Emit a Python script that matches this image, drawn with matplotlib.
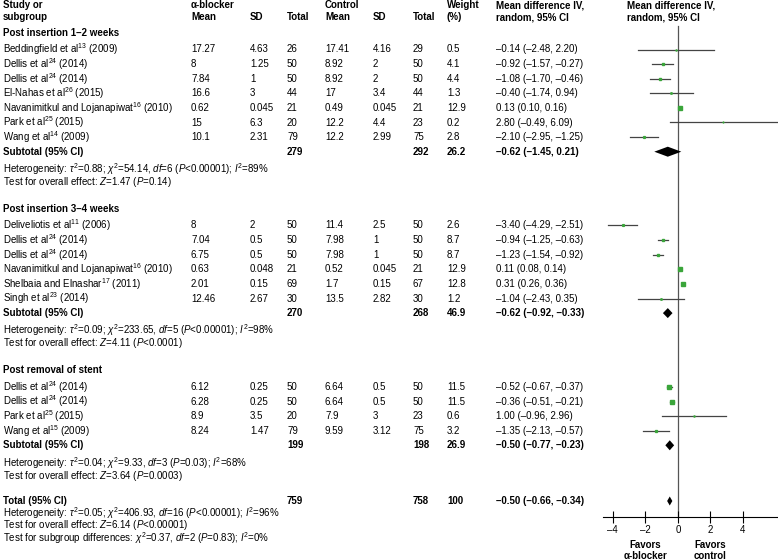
import matplotlib
matplotlib.use("Agg")
import matplotlib.pyplot as plt

plt.rcParams['font.family'] = ['Liberation Sans', 'DejaVu Sans']
plt.rcParams['font.size'] = 7
plt.rcParams['mathtext.fontset'] = 'custom'
plt.rcParams['mathtext.rm'] = 'Liberation Sans'
plt.rcParams['mathtext.it'] = 'Liberation Sans:italic'
plt.rcParams['mathtext.bf'] = 'Liberation Sans:bold'

# ---- datos por subgrupo ----
grupos = ["Post insertion 1–2 weeks", "Post insertion 3–4 weeks", "Post removal of stent"]

estudios = [
    ["Beddingfield et al$^{13}$ (2009)", "Dellis et al$^{24}$ (2014)", "Dellis et al$^{24}$ (2014)",
     "El-Nahas et al$^{26}$ (2015)", "Navanimitkul and Lojanapiwat$^{16}$ (2010)",
     "Park et al$^{25}$ (2015)", "Wang et al$^{14}$ (2009)"],
    ["Deliveliotis et al$^{11}$ (2006)", "Dellis et al$^{24}$ (2014)", "Dellis et al$^{24}$ (2014)",
     "Navanimitkul and Lojanapiwat$^{16}$ (2010)", "Shelbaia and Elnashar$^{17}$ (2011)",
     "Singh et al$^{23}$ (2014)"],
    ["Dellis et al$^{24}$ (2014)", "Dellis et al$^{24}$ (2014)", "Park et al$^{25}$ (2015)",
     "Wang et al$^{15}$ (2009)"],
]
alfa_media = [["17.27", "8", "7.84", "16.6", "0.62", "15", "10.1"],
              ["8", "7.04", "6.75", "0.63", "2.01", "12.46"],
              ["6.12", "6.28", "8.9", "8.24"]]
alfa_sd = [["4.63", "1.25", "1", "3", "0.045", "6.3", "2.31"],
           ["2", "0.5", "0.5", "0.048", "0.15", "2.67"],
           ["0.25", "0.25", "3.5", "1.47"]]
alfa_n = [[26, 50, 50, 44, 21, 20, 79],
          [50, 50, 50, 21, 69, 30],
          [50, 50, 20, 79]]
control_media = [["17.41", "8.92", "8.92", "17", "0.49", "12.2", "12.2"],
                 ["11.4", "7.98", "7.98", "0.52", "1.7", "13.5"],
                 ["6.64", "6.64", "7.9", "9.59"]]
control_sd = [["4.16", "2", "2", "3.4", "0.045", "4.4", "2.99"],
              ["2.5", "1", "1", "0.045", "0.15", "2.82"],
              ["0.5", "0.5", "3", "3.12"]]
control_n = [[29, 50, 50, 44, 21, 23, 75],
             [50, 50, 50, 21, 67, 30],
             [50, 50, 23, 75]]
peso = [[0.5, 4.1, 4.4, 1.3, 12.9, 0.2, 2.8],
        [2.6, 8.7, 8.7, 12.9, 12.8, 1.2],
        [11.5, 11.5, 0.6, 3.2]]
dm = [[-0.14, -0.92, -1.08, -0.40, 0.13, 2.80, -2.10],
      [-3.40, -0.94, -1.23, 0.11, 0.31, -1.04],
      [-0.52, -0.36, 1.00, -1.35]]
ic_inf = [[-2.48, -1.57, -1.70, -1.74, 0.10, -0.49, -2.95],
          [-4.29, -1.25, -1.54, 0.08, 0.26, -2.43],
          [-0.67, -0.51, -0.96, -2.13]]
ic_sup = [[2.20, -0.27, -0.46, 0.94, 0.16, 6.09, -1.25],
          [-2.51, -0.63, -0.92, 0.14, 0.36, 0.35],
          [-0.37, -0.21, 2.96, -0.57]]

sub_alfa_n = [279, 270, 199]
sub_control_n = [292, 268, 198]
sub_peso = ["26.2", "46.9", "26.9"]
sub_dm = [-0.62, -0.62, -0.50]
sub_inf = [-1.45, -0.92, -0.77]
sub_sup = [0.21, -0.33, -0.23]
sub_heterog = [r"Heterogeneity: $\tau^2$=0.88; $\chi^2$=54.14, $df$=6 ($P$<0.00001); $I^2$=89%",
               r"Heterogeneity: $\tau^2$=0.09; $\chi^2$=233.65, $df$=5 ($P$<0.00001); $I^2$=98%",
               r"Heterogeneity: $\tau^2$=0.04; $\chi^2$=9.33, $df$=3 ($P$=0.03); $I^2$=68%"]
sub_efecto = [r"Test for overall effect: $Z$=1.47 ($P$=0.14)",
              r"Test for overall effect: $Z$=4.11 ($P$<0.0001)",
              r"Test for overall effect: $Z$=3.64 ($P$=0.0003)"]

total_alfa_n = 759
total_control_n = 758
total_peso = "100"
total_dm, total_inf, total_sup = -0.50, -0.66, -0.34
total_textos = [r"Heterogeneity: $\tau^2$=0.05; $\chi^2$=406.93, $df$=16 ($P$<0.00001); $I^2$=96%",
                r"Test for overall effect: $Z$=6.14 ($P$<0.00001)",
                r"Test for subgroup differences: $\chi^2$=0.37, $df$=2 ($P$=0.83); $I^2$=0%"]

ticks = [-4, -2, 0, 2, 4]


def fmt(v):
    return f"{v:.2f}".replace("-", "–")


def ic_txt(m, a, b):
    return f"{fmt(m)} ({fmt(a)}, {fmt(b)})"


# columnas (px)
X_EST, X_AM, X_ASD, X_AN, X_CM, X_CSD, X_CN, X_W, X_IC = 3, 191, 250, 287, 325, 373, 413, 447, 496

fig = plt.figure(figsize=(7.78, 5.6), dpi=100)
ax = fig.add_axes([0, 0, 1, 1])
ax.set_xlim(0, 778)
ax.set_ylim(560, 0)
ax.axis('off')

fx = fig.add_axes([603 / 778, 0, 175 / 778, 1])
fx.set_xlim(-4.6, 6.15)
fx.set_ylim(560, 0)
fx.patch.set_alpha(0)
for s in ['top', 'right', 'left']:
    fx.spines[s].set_visible(False)
fx.spines['bottom'].set_position(('data', 517))
fx.spines['bottom'].set_linewidth(0.8)
fx.set_yticks([])
fx.set_xticks(ticks)
fx.set_xticklabels([str(t).replace("-", "–") for t in ticks])
fx.tick_params(axis='x', direction='inout', length=9, width=0.8, pad=1, labelsize=7)


def t(x, y, s, bold=False, **kw):
    ax.text(x, y, s, va='center', ha='left', fontweight='bold' if bold else 'normal', **kw)


# cabecera
t(X_EST, 5, "Study or", True)
t(X_EST, 17, "subgroup", True)
t(X_AM, 5, "α-blocker", True)
t(X_AM, 17, "Mean", True)
t(X_ASD, 17, "SD", True)
t(X_AN, 17, "Total", True)
t(X_CM, 5, "Control", True)
t(X_CM, 17, "Mean", True)
t(X_CSD, 17, "SD", True)
t(X_CN, 17, "Total", True)
t(X_W, 5, "Weight", True)
t(X_W, 17, "(%)", True)
t(X_IC, 5, "Mean difference IV,", True)
t(X_IC, 17, "random, 95% CI", True)
t(627, 5, "Mean difference IV,", True)
t(627, 17, "random, 95% CI", True)

paso = 14.6
y = 33
for g in range(len(grupos)):
    t(X_EST, y, grupos[g], True)
    y += 16.5
    for i in range(len(estudios[g])):
        t(X_EST, y, estudios[g][i])
        t(X_AM, y, alfa_media[g][i])
        t(X_ASD, y, alfa_sd[g][i])
        t(X_AN, y, str(alfa_n[g][i]))
        t(X_CM, y, control_media[g][i])
        t(X_CSD, y, control_sd[g][i])
        t(X_CN, y, str(control_n[g][i]))
        t(X_W, y, str(peso[g][i]))
        t(X_IC, y, ic_txt(dm[g][i], ic_inf[g][i], ic_sup[g][i]))
        fx.plot([ic_inf[g][i], ic_sup[g][i]], [y, y], color='#444444', lw=0.9, clip_on=True)
        fx.plot(dm[g][i], y, marker='s', color='#3aa53a', mec='#3aa53a',
                ms=0.6 * peso[g][i] ** 0.5 + 0.3)
        y += paso
    t(X_EST, y, "Subtotal (95% CI)", True)
    t(X_AN, y, str(sub_alfa_n[g]), True)
    t(X_CN, y, str(sub_control_n[g]), True)
    t(X_W, y, sub_peso[g], True)
    t(X_IC, y, ic_txt(sub_dm[g], sub_inf[g], sub_sup[g]), True)
    fx.fill([sub_inf[g], sub_dm[g], sub_sup[g], sub_dm[g]], [y, y - 5, y, y + 5], color='black', lw=0)
    y += 17.5
    t(X_EST, y, sub_heterog[g])
    y += 12.8
    t(X_EST, y, sub_efecto[g])
    y += 27

y = 501
t(X_EST, y, "Total (95% CI)", True)
t(X_AN, y, str(total_alfa_n), True)
t(X_CN, y, str(total_control_n), True)
t(X_W, y, total_peso, True)
t(X_IC, y, ic_txt(total_dm, total_inf, total_sup), True)
fx.fill([total_inf, total_dm, total_sup, total_dm], [y, y - 4.5, y, y + 4.5], color='black', lw=0)
for k, s in enumerate(total_textos):
    t(X_EST, 513 + 12.5 * k, s)

# línea vertical en 0
fx.plot([0, 0], [26, 517], color='#555555', lw=0.9, zorder=0)

fx.text(-2, 550.5, "Favors\nα-blocker", ha='center', va='center', fontweight='bold', linespacing=1.15)
fx.text(2, 550.5, "Favors\ncontrol", ha='center', va='center', fontweight='bold', linespacing=1.15)

fig.savefig("out.png", dpi=100)
